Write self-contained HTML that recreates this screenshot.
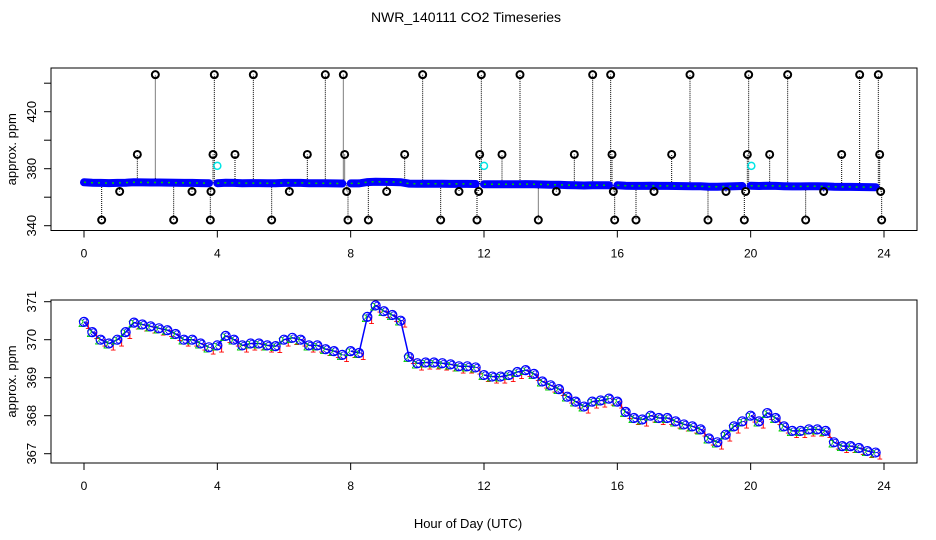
<!DOCTYPE html>
<html><head><meta charset="utf-8"><style>
html,body{margin:0;padding:0;background:#fff;}
svg{display:block;font-family:"Liberation Sans",sans-serif;}
</style></head><body>
<svg id="chart" width="936" height="540" viewBox="0 0 936 540">
<text x="466" y="22" text-anchor="middle" font-size="14">NWR_140111  CO2 Timeseries</text>
<text x="468" y="528" text-anchor="middle" font-size="13">Hour of Day (UTC)</text>
<g id="top"></g>
<g id="bot"></g>
</svg>
<script>
// bottom-panel CO2 series, sampled every 0.25 h (hours 0..23.75)
const hours = [];
for (let i = 0; i < 96; i++) hours.push(i * 0.25);
const co2 = [370.47,370.2,370.0,369.9,370.0,370.2,370.45,370.4,370.35,370.3,370.25,370.15,370.0,370.0,369.9,369.8,
369.85,370.1,370.0,369.85,369.9,369.9,369.85,369.83,370.0,370.05,370.0,369.85,369.85,369.75,369.7,369.6,
369.7,369.65,370.6,370.9,370.75,370.65,370.5,369.55,369.38,369.4,369.4,369.38,369.35,369.3,369.3,369.27,
369.07,369.03,369.03,369.07,369.15,369.2,369.1,368.9,368.8,368.7,368.5,368.37,368.24,368.37,368.4,368.45,
368.37,368.1,367.94,367.9,368.0,367.94,367.94,367.85,367.77,367.72,367.64,367.4,367.3,367.5,367.72,367.85,
368.0,367.85,368.07,367.94,367.72,367.6,367.6,367.64,367.64,367.6,367.3,367.2,367.2,367.15,367.07,367.03];
// outliers in top panel
const outT = [0.53,1.07,1.6,2.14,2.69,3.24,3.79,3.81,3.87,3.91,4.53,5.08,5.63,6.16,6.7,7.24,7.78,7.82,7.88,7.92,8.53,9.08,9.62,10.16,10.7,11.25,11.79,11.84,11.87,11.92,12.54,13.08,13.63,14.17,14.71,15.26,15.8,15.84,15.88,15.92,16.56,17.1,17.63,18.18,18.72,19.26,19.81,19.85,19.9,19.94,20.57,21.11,21.65,22.19,22.73,23.27,23.83,23.87,23.9,23.93];
const outV = [344,364,390,446,344,364,344,364,390,446,390,446,344,364,390,446,446,390,364,344,344,364,390,446,344,364,344,364,390,446,390,446,344,364,390,446,446,390,364,344,344,364,390,446,344,364,344,364,390,446,390,446,344,364,390,446,446,390,364,344];
const cyanT = [4.0,12.0,20.02];
const cyanV = [382,382,382];
const xTicks = [0,4,8,12,16,20,24];
const topYTicks = [340,360,380,400,420,440];
const topYLabels = ["340","","380","","420",""];
const botYTicks = [367,368,369,370,371];

const NS = "http://www.w3.org/2000/svg";
const xs = t => 84 + t * 33.333;
const yT = v => 225.7 - (v - 340) * 1.425;
const yB = v => 301.7 + (371 - v) * 38;
function mk(tag, attrs, parent) {
  const e = document.createElementNS(NS, tag);
  for (const k in attrs) e.setAttribute(k, attrs[k]);
  parent.appendChild(e);
  return e;
}
const gaps = [15, 31, 47, 63, 79]; // index after which series breaks
function segments(yf) {
  let seg = [];
  const segs = [];
  co2.forEach((v, i) => { seg.push(`${xs(hours[i]).toFixed(1)},${yf(v).toFixed(1)}`); if (gaps.includes(i)) { segs.push(seg); seg = []; } });
  segs.push(seg);
  return segs;
}
function frame(g, top, bottom, yf, ticks, labels) {
  const box = mk("rect", {x:51, y:top, width:866, height:bottom-top, fill:"none", stroke:"#000", "stroke-width":1}, g);
  
  
  xTicks.forEach(t => {
    const l = mk("line", {x1:xs(t), x2:xs(t), y1:bottom, y2:bottom+7, stroke:"#000"}, g);
    
    
    const tx = mk("text", {x:xs(t), y:bottom+27, "text-anchor":"middle", "font-size":12}, g);
    tx.textContent = t;
    
    
  });
  ticks.forEach((v, i) => {
    const y = yf(v);
    const l = mk("line", {x1:44, x2:51, y1:y, y2:y, stroke:"#000"}, g);
    
    
    if (labels[i]) {
      const tx = mk("text", {x:0, y:0, "text-anchor":"middle", "font-size":13, transform:`translate(36,${y}) rotate(-90)`}, g);
      tx.textContent = labels[i];
      
      
    }
  });
  const yl = mk("text", {x:0, y:0, "text-anchor":"middle", "font-size":13, transform:`translate(16,${(top+bottom)/2}) rotate(-90)`}, g);
  yl.textContent = "approx. ppm";
  
  
}
// TOP PANEL
const gt = document.getElementById("top");
frame(gt, 68, 230.5, yT, topYTicks, topYLabels);
outT.forEach((t, i) => {
  const bi = Math.min(95, Math.round(t / 0.25));
  const l = mk("line", {x1:xs(t), x2:xs(t), y1:yT(co2[bi]), y2:yT(outV[i]), stroke:"#000", "stroke-dasharray":"1,1"}, gt);
  
  
});
segments(yT).forEach(s => {
  const p = mk("polyline", {points:s.join(" "), fill:"none", stroke:"#0000ff", "stroke-width":8, "stroke-linecap":"round"}, gt);
  
  
  const p2 = mk("polyline", {points:s.join(" "), fill:"none", stroke:"#00cc00", "stroke-width":1.5, "stroke-dasharray":"2,5"}, gt);
  
  
});
outT.forEach((t, i) => {
  const c = mk("circle", {cx:xs(t), cy:yT(outV[i]), r:3.5, fill:"none", stroke:"#000", "stroke-width":2}, gt);
  
  
});
cyanT.forEach((t, i) => {
  const c = mk("circle", {cx:xs(t), cy:yT(cyanV[i]), r:3.5, fill:"none", stroke:"#00e5e5", "stroke-width":1.5}, gt);
  
  
});
// BOTTOM PANEL
const gb = document.getElementById("bot");
frame(gb, 300, 463, yB, botYTicks, botYTicks.map(String));
segments(yB).forEach(s => {
  const p = mk("polyline", {points:s.join(" "), fill:"none", stroke:"#0000ff", "stroke-width":1.5}, gb);
  
  
});
co2.forEach((v, i) => {
  const x = xs(hours[i]), y = yB(v);
  const r = mk("text", {x:x+1, y:y+7, "font-size":11, fill:"#ff0000"}, gb);
  r.textContent = "1";
  
  
  const g2 = mk("text", {x:x-6, y:y+5, "font-size":11, fill:"#00cc00"}, gb);
  g2.textContent = "2";
  
  
  const c = mk("circle", {cx:x, cy:y, r:4.5, fill:"none", stroke:"#0000ff", "stroke-width":1.2}, gb);
  
  
  const b = mk("text", {x:x-2, y:y+4, "font-size":11, fill:"#0000ff"}, gb);
  b.textContent = "3";
  
  
});
</script>
</body></html>
